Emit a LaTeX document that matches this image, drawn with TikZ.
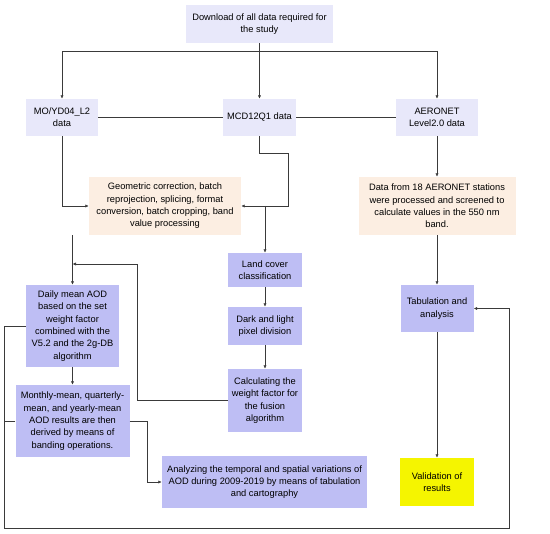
\documentclass[tikz,border=0pt]{standalone}
\usepackage{fontspec}
\setmainfont{Liberation Sans}
\usetikzlibrary{arrows.meta}
\definecolor{lightbox}{HTML}{E8E8FA}
\definecolor{midbox}{HTML}{BEBEF4}
\definecolor{peach}{HTML}{FCEEE2}
\definecolor{yel}{HTML}{F5F500}
\definecolor{linec}{HTML}{3A3A3A}
\tikzset{
  box/.style={inner sep=0pt, align=center, font=\fontsize{9.3}{12.3}\selectfont, text=black},
  lbox/.style={box, fill=lightbox},
  mbox/.style={box, fill=midbox},
  pbox/.style={box, fill=peach},
  ybox/.style={box, fill=yel},
  conn/.style={draw=linec, line width=0.6pt},
  arr/.style={conn, -{Latex[length=3.5pt,width=3.2pt]}},
}
\begin{document}
\begin{tikzpicture}[x=1pt,y=-1pt]
\useasboundingbox[fill=white] (0,0) rectangle (550,534);
\node[lbox, minimum width=147, minimum height=38] (top) at (259.5,24) {Download of all data required for\\the study};
\node[lbox, minimum width=72, minimum height=37] (mo) at (62,117.5) {MO/YD04\_L2\\data};
\node[lbox, minimum width=73, minimum height=37] (mcd) at (259.5,117.5) {MCD12Q1 data};
\node[lbox, minimum width=82, minimum height=37] (aer) at (437,117.5) {AERONET\\Level2.0 data};
\node[pbox, minimum width=152, minimum height=58] (geo) at (165,206) {Geometric correction, batch\\reprojection, splicing, format\\conversion, batch cropping, band\\value processing};
\node[pbox, minimum width=157, minimum height=58] (dat) at (437,206) {Data from 18 AERONET stations\\were processed and screened to\\calculate values in the 550 nm\\band.};
\node[mbox, minimum width=74, minimum height=34] (land) at (265,270) {Land cover\\classification};
\node[mbox, minimum width=74, minimum height=38] (dark) at (265,326) {Dark and light\\pixel division};
\node[mbox, minimum width=74, minimum height=63] (calc) at (265,400.5) {Calculating the\\weight factor for\\the fusion\\algorithm};
\node[mbox, minimum width=93, minimum height=82] (daily) at (72.5,326) {Daily mean AOD\\based on the set\\weight factor\\combined with the\\V5.2 and the 2g-DB\\algorithm};
\node[mbox, minimum width=114, minimum height=72] (monthly) at (72.5,421) {Monthly-mean, quarterly-\\mean, and yearly-mean\\AOD results are then\\derived by means of\\banding operations.};
\node[mbox, minimum width=205, minimum height=52] (anal) at (264.5,482) {Analyzing the temporal and spatial variations of\\AOD during 2009-2019 by means of tabulation\\and cartography};
\node[mbox, minimum width=73, minimum height=47] (tab) at (437,308.5) {Tabulation and\\analysis};
\node[ybox, minimum width=74, minimum height=48] (val) at (437,482) {Validation of\\results};

\coordinate (j) at (259.5,51);
\coordinate (c1) at (288,153);
\coordinate (fb) at (137,264);
\coordinate (m1) at (147,421);
\coordinate (L1) at (4,326);
\coordinate (L2) at (4,528);
\coordinate (L3) at (509,528);
\coordinate (L4) at (509,308.5);

\draw[arr] (top.south) -- (mcd.north);
\draw[arr] (j) -| (mo.north);
\draw[arr] (j) -| (aer.north);
\draw[conn] (mo.east) -- (mcd.west);
\draw[conn] (mcd.east) -- (aer.west);
\draw[arr] (mcd.south) |- (c1) |- (geo.east);
\draw[arr] (land.north |- geo.east) -- (land.north);
\draw[arr] (mo.south) |- (geo.west);
\draw[arr] (daily.north |- geo.south) -- (daily.north);
\draw[arr] (calc.west) -| (fb) -- (daily.north |- fb);
\draw[arr] (land.south) -- (dark.north);
\draw[arr] (dark.south) -- (calc.north);
\draw[arr] (daily.south) -- (monthly.north);
\draw[arr] (monthly.east) -- (m1) |- (anal.west);
\draw[arr] (daily.west) -- (L1) -- (L2) -- (L3) -- (L4) -- (tab.east);
\draw[conn] (monthly.west) -- (monthly.west -| L1);
\draw[arr] (aer.south) -- (dat.north);
\draw[arr] (dat.south) -- (tab.north);
\draw[arr] (tab.south) -- (val.north);
\end{tikzpicture}
\end{document}
